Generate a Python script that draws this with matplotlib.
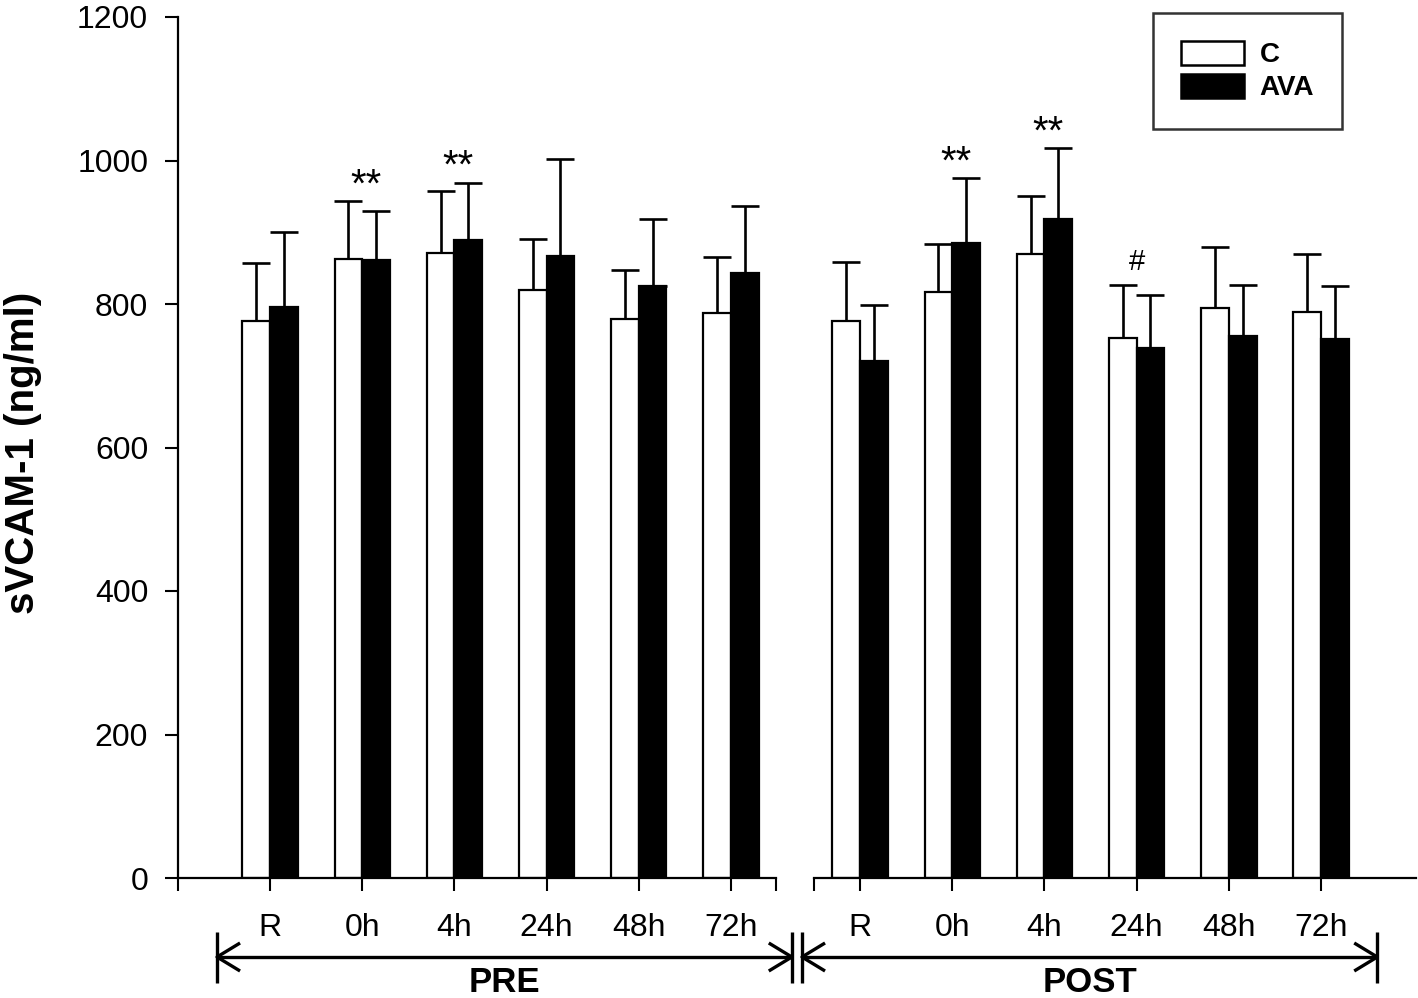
import numpy as np
import matplotlib
matplotlib.use("Agg")
import matplotlib.pyplot as plt
import matplotlib.transforms as mtransforms
from matplotlib.patches import Patch

plt.rcParams['font.family'] = ['Liberation Sans', 'DejaVu Sans']

# ---------------- data ----------------
timepoints = ["R", "0h", "4h", "24h", "48h", "72h"]
periods = ["PRE", "POST"]
series_names = ["C", "AVA"]

pre_C_mean = [777, 863, 871, 819, 779, 788]
pre_C_sd = [80, 80, 87, 72, 68, 77]
pre_AVA_mean = [796, 862, 889, 867, 825, 843]
pre_AVA_sd = [104, 68, 80, 135, 93, 94]

post_C_mean = [777, 817, 869, 753, 795, 789]
post_C_sd = [82, 67, 81, 73, 84, 81]
post_AVA_mean = [721, 885, 918, 738, 755, 751]
post_AVA_sd = [77, 90, 99, 75, 72, 74]

# significance marks: (period, timepoint index, text)
sig_marks = [("PRE", 1, "**"), ("PRE", 2, "**"),
             ("POST", 1, "**"), ("POST", 2, "**"), ("POST", 3, "#")]

# ---------------- layout ----------------
W, H = 1418, 998
fig = plt.figure(figsize=(W / 100, H / 100), dpi=100)
ax = fig.add_axes([178 / W, 120 / H, 1238 / W, 861 / H])

seg_offset = 6.4
bar_w = 0.30
pos = {"PRE": np.arange(len(timepoints)), "POST": np.arange(len(timepoints)) + seg_offset}
means = {"PRE": (pre_C_mean, pre_AVA_mean), "POST": (post_C_mean, post_AVA_mean)}
sds = {"PRE": (pre_C_sd, pre_AVA_sd), "POST": (post_C_sd, post_AVA_sd)}

for p in periods:
    x = pos[p]
    cm, am = means[p]
    cs, as_ = sds[p]
    ax.bar(x - bar_w / 2, cm, bar_w, color="white", edgecolor="black", linewidth=1.6, zorder=2)
    ax.bar(x + bar_w / 2, am, bar_w, color="black", edgecolor="black", linewidth=1.6, zorder=2)
    ax.errorbar(x - bar_w / 2, cm, yerr=[np.zeros(len(cm)), cs], fmt="none",
                ecolor="black", elinewidth=1.9, capsize=10, capthick=1.9, zorder=1)
    ax.errorbar(x + bar_w / 2, am, yerr=[np.zeros(len(am)), as_], fmt="none",
                ecolor="black", elinewidth=1.9, capsize=10, capthick=1.9, zorder=1)

for p, i, txt in sig_marks:
    cm, am = means[p]
    cs, as_ = sds[p]
    top = max(cm[i] + cs[i], am[i] + as_[i])
    if txt == "**":
        ax.text(pos[p][i] + 0.04, top + 22, txt, ha="center", va="center", fontsize=29)
    else:
        ax.text(pos[p][i], top + 32, txt, ha="center", va="center", fontsize=21)

xmin, xmax = -0.998, 12.43
ax.set_xlim(xmin, xmax)
ax.set_ylim(0, 1200)
ax.set_yticks(np.arange(0, 1201, 200))

for s in ["top", "right", "bottom"]:
    ax.spines[s].set_visible(False)
ax.spines["left"].set_linewidth(1.6)

pre_end, post_start = 5.49, 5.90
ax.plot([xmin, pre_end], [0, 0], color="black", lw=1.6, clip_on=False, zorder=3)
ax.plot([post_start, xmax], [0, 0], color="black", lw=1.6, clip_on=False, zorder=3)

tick_pos = [xmin] + list(pos["PRE"]) + [pre_end, post_start] + list(pos["POST"])
tick_lab = [""] + timepoints + ["", ""] + timepoints
ax.set_xticks(tick_pos)
ax.set_xticklabels(tick_lab)
ax.tick_params(axis="x", direction="out", length=9, width=1.5, pad=16, labelsize=23)
ax.tick_params(axis="y", direction="out", length=9.5, width=1.5, pad=12, labelsize=23)

fig.text(23 / W, 1 - 453 / H, "sVCAM-1 (ng/ml)", rotation=90, ha="center", va="center",
         fontsize=29, fontweight="bold")

# bracket arrows
tr = mtransforms.blended_transform_factory(ax.transData, ax.transAxes)
y_line = (878 - 957) / 861
y_top = (878 - 932) / 861
y_bot = (878 - 983) / 861
adx, ady = 0.25, 14 / 861
kw = dict(color="black", lw=2.4, transform=tr, clip_on=False, solid_capstyle="butt")
arrows = {"PRE": (-0.575, 5.66), "POST": (5.77, 12.01)}
for p, (x0, x1) in arrows.items():
    ax.plot([x0, x1], [y_line, y_line], **kw)
    ax.plot([x0, x0], [y_top, y_bot], **kw)
    ax.plot([x1, x1], [y_top, y_bot], **kw)
    ax.plot([x0 + adx, x0, x0 + adx], [y_line + ady, y_line, y_line - ady], **kw)
    ax.plot([x1 - adx, x1, x1 - adx], [y_line + ady, y_line, y_line - ady], **kw)
    ax.text((x0 + x1) / 2, (878 - 983) / 861, p, transform=tr, ha="center", va="center",
            fontsize=25, fontweight="bold")

handles = [Patch(facecolor="white", edgecolor="black", linewidth=1.8, label=series_names[0]),
           Patch(facecolor="black", edgecolor="black", linewidth=1.8, label=series_names[1])]
leg = ax.legend(handles=handles, loc="upper right",
                bbox_to_anchor=((1342 - 178) / 1238, (878 - 13) / 861),
                prop={"size": 20, "weight": "bold"}, frameon=True, fancybox=False,
                handlelength=2.3, handleheight=0.95, handletextpad=0.55,
                labelspacing=0.2, borderpad=1.0, borderaxespad=0)
leg.get_frame().set_edgecolor("black")
leg.get_frame().set_linewidth(1.8)

fig.savefig("out.png", dpi=100)
